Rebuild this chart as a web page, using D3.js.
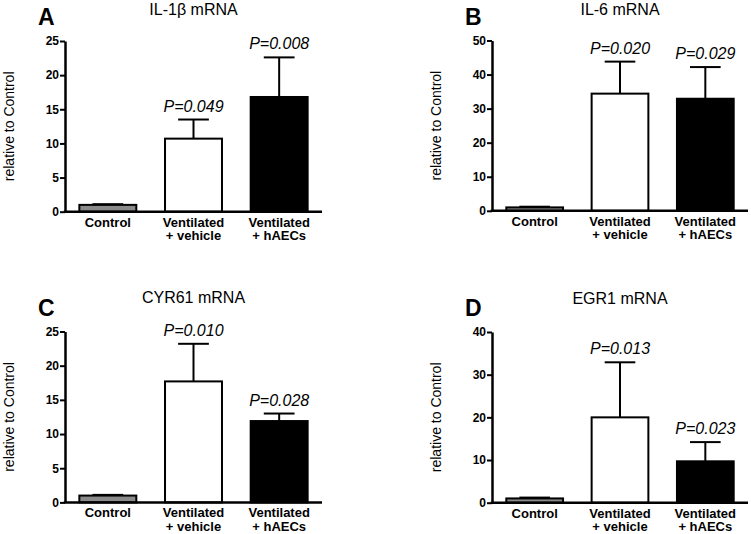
<!DOCTYPE html>
<html><head><meta charset="utf-8">
<script src="https://cdn.jsdelivr.net/npm/d3@7"></script>
<style>
body{margin:0;background:#fff;}
svg{display:block;font-family:"Liberation Sans",Arial,sans-serif;}
</style></head><body>
<svg id="chart" width="751" height="534"></svg>
<script>
const categories = [["Control"], ["Ventilated", "+ vehicle"], ["Ventilated", "+ hAECs"]];
const panelLetters = ["A", "B", "C", "D"];
const panelTitles = ["IL-1β mRNA", "IL-6 mRNA", "CYR61 mRNA", "EGR1 mRNA"];
const meansA = [1.0, 10.7, 16.8];
const semA = [0.1, 2.8, 5.8];
const meansB = [1.0, 34.4, 32.9];
const semB = [0.2, 9.4, 9.3];
const meansC = [1.0, 17.7, 11.9];
const semC = [0.1, 5.5, 1.1];
const meansD = [1.0, 20.0, 9.7];
const semD = [0.2, 12.9, 4.5];
const pLabelsA = [null, "P=0.049", "P=0.008"];
const pLabelsB = [null, "P=0.020", "P=0.029"];
const pLabelsC = [null, "P=0.010", "P=0.028"];
const pLabelsD = [null, "P=0.013", "P=0.023"];
const ticksA = [0, 5, 10, 15, 20, 25];
const ticksB = [0, 10, 20, 30, 40, 50];
const ticksC = [0, 5, 10, 15, 20, 25];
const ticksD = [0, 10, 20, 30, 40];
const yLabel = "relative to Control";
const fills = ["#8a8a8a", "#ffffff", "#000000"];

const panels = [
  {means: meansA, sem: semA, p: pLabelsA, ticks: ticksA, x0: 65, x1: 322, yTop: 41, yBot: 211.7},
  {means: meansB, sem: semB, p: pLabelsB, ticks: ticksB, x0: 492, x1: 748, yTop: 40.5, yBot: 210.8},
  {means: meansC, sem: semC, p: pLabelsC, ticks: ticksC, x0: 65, x1: 322, yTop: 331.5, yBot: 502.4},
  {means: meansD, sem: semD, p: pLabelsD, ticks: ticksD, x0: 492, x1: 748, yTop: 332, yBot: 502.7}
];

const svg = d3.select("#chart");

panels.forEach((pn, i) => {
  const g = svg.append("g");
  const x = d3.scaleBand().domain(d3.range(3)).range([pn.x0, pn.x1])
    .paddingInner(0.335).paddingOuter(0.1675);
  const y = d3.scaleLinear().domain([0, d3.max(pn.ticks)]).range([pn.yBot, pn.yTop]);

  // panel letter
  g.append("text").attr("x", pn.x0 - 27).attr("y", pn.yTop - 16)
    .attr("font-size", 23).attr("font-weight", "bold").text(panelLetters[i]);
  // title
  g.append("text").attr("x", (pn.x0 + pn.x1) / 2).attr("y", pn.yTop - (i < 2 ? 26 : 28.5))
    .attr("text-anchor", "middle").attr("font-size", 16).text(panelTitles[i]);
  // y label
  g.append("text")
    .attr("transform", `translate(${pn.x0 - 51},${(pn.yTop + pn.yBot) / 2}) rotate(-90)`)
    .attr("text-anchor", "middle").attr("font-size", 14).text(yLabel);

  // bars
  g.selectAll("rect.bar").data(pn.means).join("rect")
    .attr("class", "bar")
    .attr("x", (d, j) => x(j))
    .attr("width", x.bandwidth())
    .attr("y", d => y(d))
    .attr("height", d => y(0) - y(d))
    .attr("fill", (d, j) => fills[j])
    .attr("stroke", "#000").attr("stroke-width", 2);

  // error bars (upper)
  pn.means.forEach((m, j) => {
    const cx = x(j) + x.bandwidth() / 2;
    const top = y(m + pn.sem[j]);
    g.append("line").attr("x1", cx).attr("x2", cx).attr("y1", y(m)).attr("y2", top)
      .attr("stroke", "#000").attr("stroke-width", 2);
    g.append("line").attr("x1", cx - x.bandwidth() * 0.27).attr("x2", cx + x.bandwidth() * 0.27)
      .attr("y1", top).attr("y2", top).attr("stroke", "#000").attr("stroke-width", 2);
    if (pn.p[j]) {
      g.append("text").attr("x", cx).attr("y", top - 8).attr("text-anchor", "middle")
        .attr("font-size", 16).attr("font-style", "italic").text(pn.p[j]);
    }
  });

  // y axis
  const ax = g.append("g").attr("transform", `translate(${pn.x0},0)`)
    .call(d3.axisLeft(y).tickValues(pn.ticks).tickSize(5).tickSizeOuter(0).tickPadding(1));
  ax.select(".domain").attr("stroke-width", 2.5);
  ax.selectAll(".tick line").attr("stroke-width", 2);
  ax.selectAll(".tick text").attr("font-size", 12).attr("font-weight", "bold")
    .attr("font-family", "'Liberation Sans',Arial,sans-serif").attr("fill", "#000");

  // x axis line
  g.append("line").attr("x1", pn.x0 - 1.25).attr("x2", pn.x1).attr("y1", y(0)).attr("y2", y(0))
    .attr("stroke", "#000").attr("stroke-width", 2.5);

  // category labels
  categories.forEach((lines, j) => {
    const t = g.append("text").attr("text-anchor", "middle").attr("font-size", 13)
      .attr("font-weight", "bold");
    lines.forEach((ln, k) => {
      t.append("tspan").attr("x", x(j) + x.bandwidth() / 2).attr("y", y(0) + 15 + k * 13.5).text(ln);
    });
  });
});
</script>
</body></html>
